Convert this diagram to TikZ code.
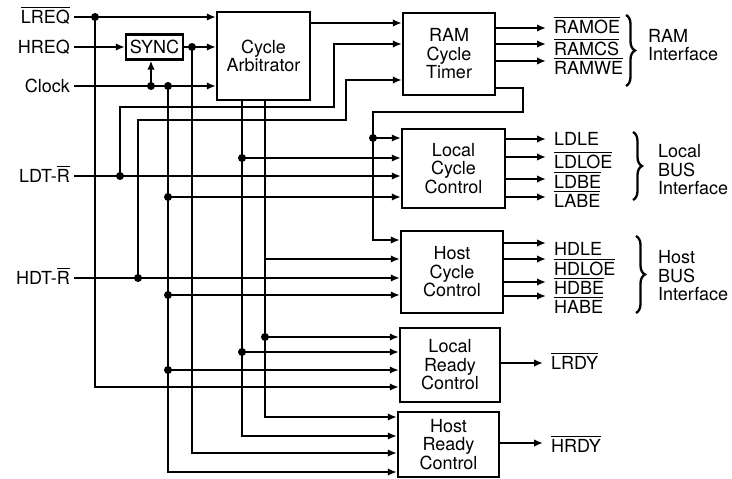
\documentclass[tikz,border=0pt]{standalone}
\usepackage{fontspec}
\setmainfont{TeX Gyre Heros}
\usetikzlibrary{arrows.meta,decorations.pathreplacing}

% overlined signal name
\newcommand{\ovl}[1]{\setbox0=\hbox{#1}\rlap{\rule[\dimexpr\ht0+2pt\relax]{\wd0}{1.4pt}}\box0}

\tikzset{
  blk/.style={draw, align=center, inner sep=2pt},
  sigin/.style={anchor=east, inner xsep=3pt, inner ysep=1pt, text height=13pt, text depth=0pt},
  sigout/.style={anchor=west, inner xsep=7pt, inner ysep=1pt, text height=13pt, text depth=0pt},
  grp/.style={anchor=west, align=left, inner sep=0pt},
  jn/.style={circle, fill, inner sep=0pt, minimum size=8pt},
  brc/.style={decorate, decoration={brace, amplitude=9pt}},
}

\begin{document}
\begin{tikzpicture}[x=1pt, y=-1pt, line width=2.3pt, >={Latex[length=9pt,width=7.5pt]},
  every node/.style={font=\fontsize{18}{18.5}\selectfont}]
	\useasboundingbox (0,0) rectangle (732,479);

	% blocks
	\node[blk, minimum width=57pt, minimum height=25pt] (sync) at (154.5,47) {SYNC};
	\node[blk, minimum width=93pt, minimum height=88pt] (arb) at (263.5,56) {Cycle\\Arbitrator};
	\node[blk, minimum width=92pt, minimum height=82pt] (ram) at (449,54) {RAM\\Cycle\\Timer};
	\node[blk, minimum width=103pt, minimum height=79pt] (lcc) at (453.5,168.5) {Local\\Cycle\\Control};
	\node[blk, minimum width=102pt, minimum height=82pt] (hcc) at (452,272) {Host\\Cycle\\Control};
	\node[blk, minimum width=100pt, minimum height=74pt] (lrc) at (450,365) {Local\\Ready\\Control};
	\node[blk, minimum width=101pt, minimum height=65pt] (hrc) at (448.5,444.5) {Host\\Ready\\Control};

	% inputs on the left
	\node[sigin] (lreq) at (74,17) {\ovl{LREQ}};
	\node[sigin] (hreq) at (74,47) {HREQ};
	\node[sigin] (clk) at (74,86) {Clock};
	\node[sigin] (ldt) at (74,176) {LDT-\ovl{R}};
	\node[sigin] (hdt) at (74,278) {HDT-\ovl{R}};

	% LREQ
	\draw[->] (lreq) -- (lreq -| arb.west);
	\node[jn] (jl) at (95,17) {};
	\draw[->] (jl.center) |- (lrc.west |- 0,387);

	% HREQ, SYNC
	\draw[->] (hreq) -- (sync);
	\draw[->] (sync) -- (sync -| arb.west);
	\node[jn] (jy) at (192,47) {};
	\draw[->] (jy.center) |- (hrc.west |- 0,453);

	% Clock
	\draw[->] (clk) -- (clk -| arb.west);
	\node[jn] (js) at (151,86) {};
	\draw[->] (js.center) -- (js |- sync.south);
	\node[jn] (jc) at (168,86) {};
	\draw[->] (jc.center) |- (hrc.west |- 0,472);
	\node[jn] (jc1) at (168,197) {};
	\node[jn] (jc2) at (168,295) {};
	\node[jn] (jc3) at (168,370) {};
	\draw[->] (jc1.center) -- (lcc.west |- jc1);
	\draw[->] (jc2.center) -- (hcc.west |- jc2);
	\draw[->] (jc3.center) -- (lrc.west |- jc3);

	% arbitrator outputs
	\draw[->] (arb.east |- 0,23) -- (ram.west |- 0,23);
	\draw[->] (242,0 |- arb.south) |- (hrc.west |- 0,436);
	\draw[->] (265,0 |- arb.south) |- (hrc.west |- 0,417);
	\node[jn] (ja1) at (242,158) {};
	\node[jn] (ja2) at (242,352) {};
	\node[jn] (jb2) at (265,337) {};
	\coordinate (tb) at (265,259);
	\draw[->] (ja1.center) -- (lcc.west |- ja1);
	\draw[->] (ja2.center) -- (lrc.west |- ja2);
	\draw[->] (jb2.center) -- (lrc.west |- jb2);
	\draw[->] (tb) -- (hcc.west |- tb);

	% LDT-R
	\draw[->] (ldt) -- (lcc.west |- ldt);
	\node[jn] (jd) at (120,176) {};
	\draw[->] (jd.center) |- (334,107) |- (ram.west |- 0,44);

	% HDT-R
	\draw[->] (hdt) -- (hcc.west |- hdt);
	\node[jn] (jh) at (138,278) {};
	\draw[->] (jh.center) |- (346,120) |- (ram.west |- 0,80);

	% RAM timer feedback
	\draw[->] (ram.east |- 0,88) -| (523,112) -| (373,240) -- (hcc.west |- 0,240);
	\node[jn] (jr) at (373,138) {};
	\draw[->] (jr.center) -- (lcc.west |- jr);

	% outputs
	\foreach \a/\y/\n/\t in {28/27/ro/\ovl{RAMOE}, 44/49/rc/\ovl{RAMCS}, 61/68/rw/\ovl{RAMWE}} {
		\node[sigout] (\n) at (546,\y) {\t};
		\draw[->] (ram.east |- 0,\a) -- (\n.west |- 0,\a);
	}
	\foreach \a/\y/\n/\t in {139/139/lle/LDLE, 157/162/llo/\ovl{LDLOE}, 179/182/lbe/\ovl{LDBE}, 197/201/lab/\ovl{LABE}} {
		\node[sigout] (\n) at (546,\y) {\t};
		\draw[->] (lcc.east |- 0,\a) -- (\n.west |- 0,\a);
	}
	\foreach \a/\y/\n/\t in {243/249/hle/HDLE, 259/269/hlo/\ovl{HDLOE}, 282/288/hbe/\ovl{HDBE}, 296/307/hab/\ovl{HABE}} {
		\node[sigout] (\n) at (546,\y) {\t};
		\draw[->] (hcc.east |- 0,\a) -- (\n.west |- 0,\a);
	}
	\node[sigout] (lrdy) at (543,363) {\ovl{LRDY}};
	\draw[->] (lrc.east |- lrdy) -- (lrdy);
	\node[sigout] (hrdy) at (543,446) {\ovl{HRDY}};
	\draw[->] (hrc.east |- 0,443) -- (hrdy.west |- 0,443);

	% interface groups
	\draw[brc] (626,15) -- (626,86);
	\node[grp] (gram) at (647,45) {RAM\\Interface};
	\draw[brc] (633,132) -- (633,200);
	\node[grp] (gloc) at (657,170) {Local\\BUS\\Interface};
	\draw[brc] (636,236) -- (636,313);
	\node[grp] (ghost) at (657,276) {Host\\BUS\\Interface};
\end{tikzpicture}
\end{document}
